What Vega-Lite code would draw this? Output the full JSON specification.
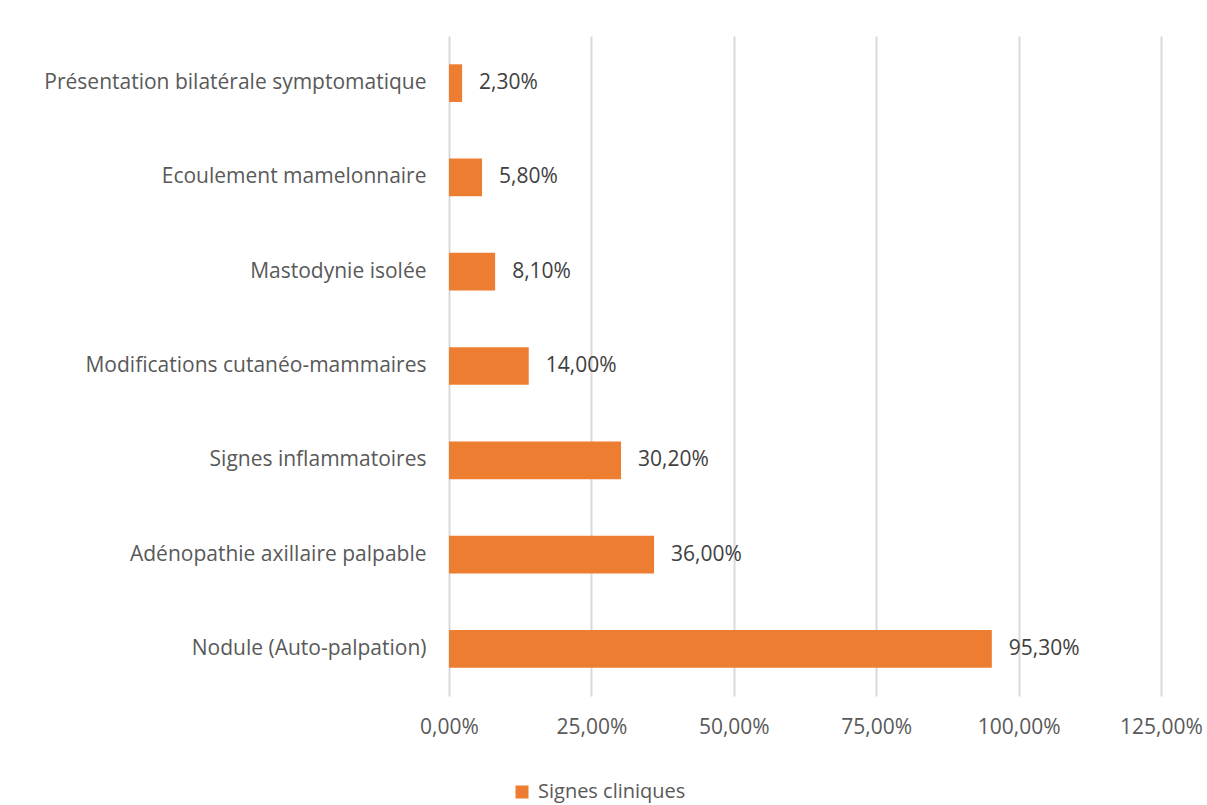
{
  "$schema": "https://vega.github.io/schema/vega-lite/v6.json",
  "autosize": "none",
  "width": 712,
  "height": 660,
  "padding": {"left": 449, "top": 36, "right": 46, "bottom": 109},
  "background": "white",
  "config": {
    "locale": {"number": {"decimal": ",", "thousands": " ", "grouping": [3], "currency": ["", " €"]}},
    "view": {"stroke": null},
    "font": "Open Sans"
  },
  "data": {"values": [
    {"signe": "Présentation bilatérale symptomatique", "valeur": 0.023, "serie": "Signes cliniques"},
    {"signe": "Ecoulement mamelonnaire", "valeur": 0.058, "serie": "Signes cliniques"},
    {"signe": "Mastodynie isolée", "valeur": 0.081, "serie": "Signes cliniques"},
    {"signe": "Modifications cutanéo-mammaires", "valeur": 0.14, "serie": "Signes cliniques"},
    {"signe": "Signes inflammatoires", "valeur": 0.302, "serie": "Signes cliniques"},
    {"signe": "Adénopathie axillaire palpable", "valeur": 0.36, "serie": "Signes cliniques"},
    {"signe": "Nodule (Auto-palpation)", "valeur": 0.953, "serie": "Signes cliniques"}
  ]},
  "encoding": {
    "y": {
      "field": "signe", "type": "nominal", "sort": null, "title": null,
      "scale": {"paddingInner": 0.6, "paddingOuter": 0.3},
      "axis": {"domain": false, "ticks": false, "labelPadding": 23, "labelFontSize": 21, "labelColor": "#595959", "labelFont": "Open Sans", "labelLimit": 500}
    },
    "x": {
      "field": "valeur", "type": "quantitative", "title": null,
      "scale": {"domain": [0, 1.25], "nice": false},
      "axis": {"values": [0, 0.25, 0.5, 0.75, 1, 1.25], "format": ".2%", "domain": false, "ticks": false, "grid": true, "gridColor": "#d9d9d9", "gridWidth": 2, "labelPadding": 20, "labelFontSize": 21, "labelColor": "#595959", "labelFont": "Open Sans", "labelFlush": false}
    }
  },
  "layer": [
    {
      "mark": {"type": "bar"},
      "encoding": {
        "color": {
          "field": "serie", "type": "nominal",
          "scale": {"range": ["#ED7D31"]},
          "legend": {"title": null, "orient": "none", "legendX": 63, "legendY": 746, "symbolType": "square", "symbolSize": 169, "symbolStrokeWidth": 0, "labelFontSize": 20, "labelColor": "#595959", "labelFont": "Open Sans", "labelOffset": 6}
        }
      }
    },
    {
      "mark": {"type": "text", "align": "left", "dx": 17, "fontSize": 21, "color": "#404040", "font": "Open Sans"},
      "encoding": {
        "text": {"field": "valeur", "type": "quantitative", "format": ".2%"}
      }
    }
  ]
}
